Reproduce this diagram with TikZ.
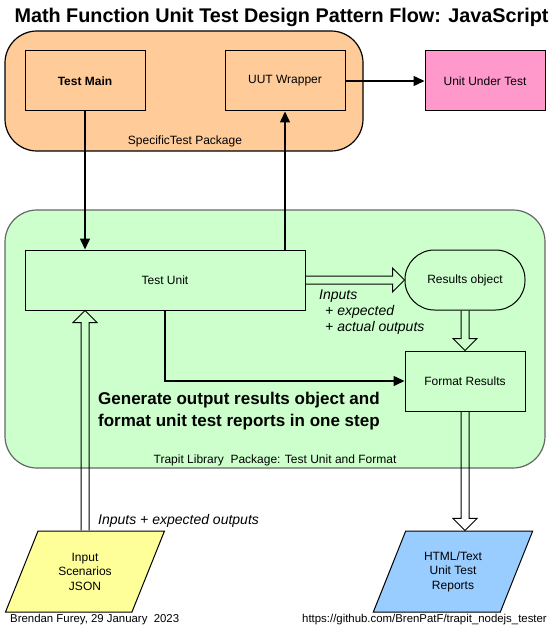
\documentclass[tikz,border=0pt]{standalone}
\usepackage{fontspec}
\setmainfont{Liberation Sans}
\usetikzlibrary{positioning,calc,shapes.geometric,arrows.meta}

\definecolor{specorange}{RGB}{255,204,153}
\definecolor{uutpink}{RGB}{255,153,204}
\definecolor{trapgreen}{RGB}{204,255,204}
\definecolor{inyellow}{RGB}{255,255,153}
\definecolor{repblue}{RGB}{153,204,255}

% hollow wide arrow between two points
\newcommand{\fatarrow}[2]{%
  \coordinate (fa-h) at ($(#2)!12pt!(#1)$);
  \draw[fatline] ($(#1)!4pt!90:(#2)$) -- ($(fa-h)!4pt!90:(#2)$) -- ($(fa-h)!12pt!90:(#2)$)
    -- (#2) -- ($(fa-h)!12pt!-90:(#2)$) -- ($(fa-h)!4pt!-90:(#2)$) -- ($(#1)!4pt!-90:(#2)$);
}

\tikzset{
  box/.style={draw, line width=1pt, minimum width=120pt, minimum height=60pt, inner sep=0pt,
    font=\fontsize{12}{14}\selectfont},
  pkg/.style={draw, line width=1.2pt, rounded corners=32pt, inner sep=0pt},
  pkglabel/.style={font=\fontsize{12}{14}\selectfont},
  flow/.style={-{Triangle[length=11pt,width=10pt]}, line width=1.5pt},
  fatline/.style={line width=1pt},
  slanted/.style={draw, line width=1pt, trapezium, trapezium left angle=63.7, trapezium right angle=116.3,
    trapezium stretches=true, minimum width=160pt, minimum height=81pt, inner sep=0pt, align=center,
    font=\fontsize{12}{14.5}\selectfont},
  note/.style={font=\itshape\fontsize{14}{17}\selectfont, align=left, inner sep=0pt}
}

\begin{document}
\begin{tikzpicture}[x=1pt,y=-1pt]
  \useasboundingbox (0,0) rectangle (551,631);

  \node[font=\bfseries\fontsize{19.8}{23}\selectfont] (title) at (281.5,17) {Math Function Unit Test Design Pattern Flow: JavaScript};

  % SpecificTest package
  \node[pkg, fill=specorange, minimum width=358pt, minimum height=120pt] (specpkg) at (184,91) {};
  \node[pkglabel] (speclabel) at (185,141) {SpecificTest Package};
  \node[box, fill=specorange, font=\bfseries\fontsize{12}{14}\selectfont] (testmain) at (85,81) {Test Main};
  \node[box, fill=specorange] (uutwrap) at (285,81) {UUT Wrapper};
  \node[box, fill=uutpink] (uut) at (485,81) {Unit Under Test};

  % Trapit library package
  \node[pkg, fill=trapgreen, draw=black!60, minimum width=540pt, minimum height=258pt] (trappkg) at (275,339) {};
  \node[pkglabel] (traplabel) at (275,460) {Trapit Library\ \ Package: Test Unit and Format};
  \node[box, minimum width=280pt] (testunit) at (165,280) {Test Unit};
  \node[box, rounded corners=29.5pt] (results) at (465,280) {Results object};
  \node[box] (format) at (465,381) {Format Results};

  \node[note, anchor=north west] (resnote) at (319,290) {Inputs\\[-1pt]\hspace{6pt}+ expected\\[-1pt]\hspace{6pt}+ actual outputs};
  \node[font=\bfseries\fontsize{17}{21.5}\selectfont, align=left, anchor=west, inner sep=0pt] (onestep) at (98,411)
    {Generate output results object and\\format unit test reports in one step};

  % inputs and reports
  \node[slanted, fill=inyellow] (input) at (85,571.5) {Input\\Scenarios\\JSON};
  \node[slanted, fill=repblue] (report) at (453,571.5) {HTML/Text\\Unit Test\\Reports};
  \node[note, anchor=west] (innote) at (98,521) {Inputs + expected outputs};

  \node[font=\fontsize{11.4}{13}\selectfont, anchor=west, inner sep=0pt] (author) at (10,620) {Brendan Furey, 29 January\ \ 2023};
  \node[font=\fontsize{11.4}{13}\selectfont, anchor=east, inner sep=0pt] (url) at (547,620) {https://github.com/BrenPatF/trapit\_nodejs\_tester};

  % connectors
  \draw[flow] (testmain.south) -- (testmain.south |- testunit.north);
  \draw[flow] (uutwrap.south |- testunit.north) -- (uutwrap.south);
  \draw[flow] (uutwrap.east) -- (uut.west);
  \draw[flow] (testunit.south) |- (format.west);

  \coordinate (tu-in) at (input.north |- testunit.south);
  \coordinate (rep-in) at (format.south |- report.north);
  \fatarrow{testunit.east}{results.west}
  \fatarrow{results.south}{format.north}
  \fatarrow{input.north}{tu-in}
  \fatarrow{format.south}{rep-in}
\end{tikzpicture}
\end{document}
